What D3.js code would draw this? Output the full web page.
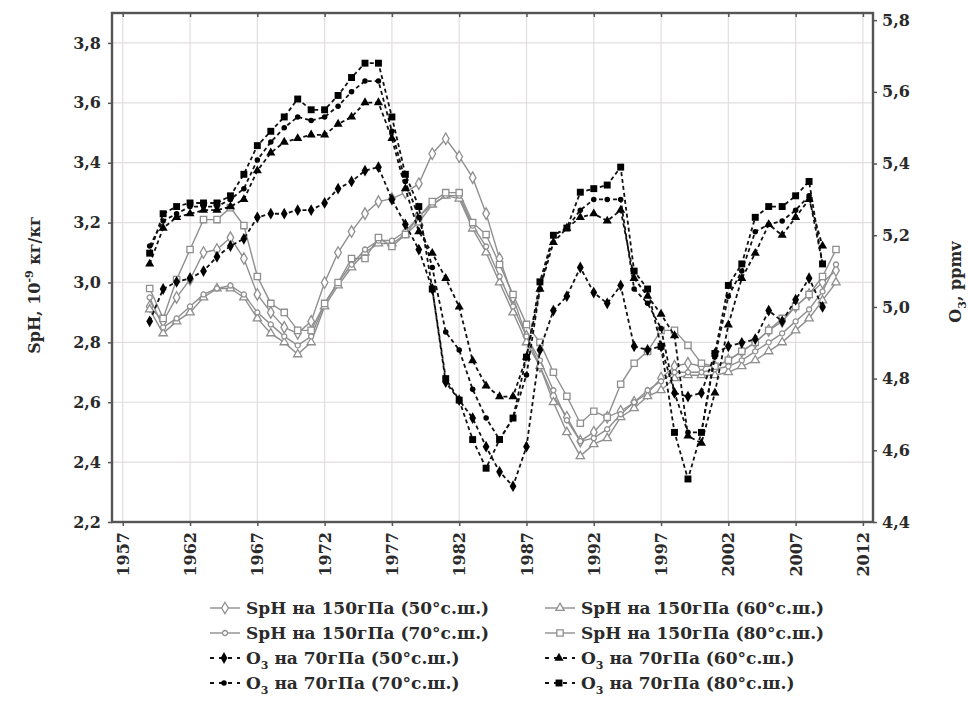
<!DOCTYPE html>
<html>
<head>
<meta charset="utf-8">
<script src="https://cdn.jsdelivr.net/npm/d3@7"></script>
<style>
  html, body { margin: 0; padding: 0; background: #fff; }
  svg { display: block; }
  text { font-family: "DejaVu Serif", "Liberation Serif", serif; font-weight: bold; fill: #2a2a2a; }
</style>
</head>
<body>
<svg id="chart" width="968" height="719"></svg>
<script>
// ---------------- DATA ----------------
const sphYears = [1959,1960,1961,1962,1963,1964,1965,1966,1967,1968,1969,1970,1971,1972,1973,1974,1975,1976,1977,1978,1979,1980,1981,1982,1983,1984,1985,1986,1987,1988,1989,1990,1991,1992,1993,1994,1995,1996,1997,1998,1999,2000,2001,2002,2003,2004,2005,2006,2007,2008,2009,2010];
const o3Years = [1959,1960,1961,1962,1963,1964,1965,1966,1967,1968,1969,1970,1971,1972,1973,1974,1975,1976,1977,1978,1979,1980,1981,1982,1983,1984,1985,1986,1987,1988,1989,1990,1991,1992,1993,1994,1995,1996,1997,1998,1999,2000,2001,2002,2003,2004,2005,2006,2007,2008,2009];

const sph50 = [2.92,2.87,2.95,3.01,3.10,3.11,3.15,3.08,2.96,2.90,2.85,2.83,2.87,3.00,3.10,3.17,3.23,3.27,3.28,3.30,3.33,3.43,3.48,3.42,3.35,3.23,3.08,2.95,2.82,2.72,2.62,2.55,2.47,2.50,2.55,2.57,2.60,2.63,2.68,2.72,2.73,2.72,2.72,2.74,2.77,2.80,2.84,2.87,2.92,2.96,3.00,3.04];
const sph60 = [2.91,2.83,2.87,2.90,2.95,2.98,2.98,2.95,2.88,2.83,2.80,2.76,2.80,2.92,2.99,3.05,3.10,3.13,3.13,3.16,3.20,3.26,3.29,3.28,3.18,3.10,3.00,2.90,2.80,2.72,2.60,2.50,2.42,2.46,2.48,2.55,2.58,2.62,2.64,2.68,2.69,2.69,2.69,2.70,2.72,2.74,2.77,2.80,2.84,2.88,2.94,3.00];
const sph70 = [2.95,2.85,2.88,2.92,2.96,2.98,2.99,2.96,2.90,2.86,2.82,2.79,2.82,2.93,3.00,3.06,3.11,3.14,3.14,3.17,3.22,3.26,3.29,3.29,3.19,3.12,3.02,2.92,2.82,2.74,2.64,2.54,2.47,2.48,2.51,2.56,2.60,2.64,2.67,2.70,2.70,2.70,2.71,2.72,2.74,2.77,2.80,2.83,2.87,2.91,2.97,3.06];
const sph80 = [2.98,2.88,3.01,3.11,3.21,3.21,3.25,3.19,3.02,2.93,2.90,2.84,2.84,2.93,3.00,3.08,3.08,3.15,3.12,3.16,3.22,3.27,3.30,3.30,3.20,3.16,3.06,2.96,2.86,2.80,2.70,2.62,2.53,2.57,2.55,2.66,2.73,2.77,2.84,2.84,2.79,2.73,2.72,2.74,2.77,2.80,2.84,2.88,2.92,2.96,3.02,3.11];

const o3_50 = [4.96,5.05,5.07,5.08,5.10,5.14,5.17,5.19,5.25,5.26,5.26,5.27,5.27,5.29,5.33,5.35,5.38,5.39,5.30,5.23,5.16,5.05,4.79,4.74,4.69,4.61,4.54,4.50,4.61,4.88,4.99,5.03,5.11,5.04,5.01,5.06,4.89,4.88,4.89,4.76,4.75,4.76,4.87,4.89,4.90,4.91,4.99,4.96,5.02,5.08,5.00];
const o3_60 = [5.12,5.22,5.25,5.26,5.27,5.27,5.28,5.30,5.38,5.43,5.46,5.47,5.48,5.48,5.51,5.53,5.57,5.57,5.47,5.33,5.21,5.15,5.08,5.00,4.85,4.78,4.75,4.75,4.86,5.05,5.18,5.22,5.25,5.26,5.24,5.27,5.08,5.03,4.98,4.92,4.64,4.62,4.76,4.95,5.08,5.15,5.23,5.20,5.25,5.30,5.17];
const o3_70 = [5.17,5.24,5.26,5.28,5.28,5.28,5.30,5.33,5.41,5.46,5.50,5.53,5.52,5.53,5.56,5.60,5.63,5.63,5.49,5.35,5.25,5.11,4.93,4.88,4.77,4.69,4.63,4.69,4.81,5.05,5.20,5.22,5.27,5.30,5.30,5.30,5.05,5.01,4.94,4.76,4.65,4.65,4.86,5.03,5.10,5.21,5.23,5.24,5.27,5.31,5.12];
const o3_80 = [5.15,5.26,5.28,5.29,5.29,5.29,5.31,5.37,5.45,5.49,5.53,5.58,5.55,5.55,5.59,5.64,5.68,5.68,5.53,5.37,5.28,5.05,4.80,4.74,4.63,4.55,4.63,4.69,4.86,5.07,5.20,5.22,5.32,5.33,5.34,5.39,5.10,5.05,4.89,4.65,4.52,4.65,4.87,5.06,5.12,5.25,5.28,5.28,5.31,5.35,5.12];

const xTicks = [1957,1962,1967,1972,1977,1982,1987,1992,1997,2002,2007,2012];
const yLeftTicks = [2.2,2.4,2.6,2.8,3.0,3.2,3.4,3.6,3.8];
const yRightTicks = [4.4,4.6,4.8,5.0,5.2,5.4,5.6,5.8];

const seriesLabels = [
  "SpH на 150гПа (50°с.ш.)", "SpH на 150гПа (60°с.ш.)",
  "SpH на 150гПа (70°с.ш.)", "SpH на 150гПа (80°с.ш.)",
  "на 70гПа (50°с.ш.)", "на 70гПа (60°с.ш.)",
  "на 70гПа (70°с.ш.)", "на 70гПа (80°с.ш.)"
];

// ---------------- LAYOUT ----------------
const plot = { left: 112, right: 873, top: 13, bottom: 522 };
const svg = d3.select("#chart");

const x = d3.scaleLinear().domain([1956.2, 2012.75]).range([plot.left, plot.right]);
const yL = d3.scaleLinear().domain([2.2, 3.9]).range([plot.bottom, plot.top]);
const yR = d3.scaleLinear().domain([4.4, 5.82]).range([plot.bottom, plot.top]);

const fmt = d => d.toFixed(1).replace(".", ",");
const FS = "16px";
const LFS = "17px";

// grid
const grid = svg.append("g");
grid.selectAll("line.v").data(xTicks).enter().append("line")
  .attr("x1", d => x(d)).attr("x2", d => x(d))
  .attr("y1", plot.top).attr("y2", plot.bottom)
  .attr("stroke", "#e2dede").attr("stroke-width", 1.2);
grid.selectAll("line.h").data(yLeftTicks).enter().append("line")
  .attr("x1", plot.left).attr("x2", plot.right)
  .attr("y1", d => yL(d)).attr("y2", d => yL(d))
  .attr("stroke", "#e2dede").attr("stroke-width", 1.2);

// axes
const axisStyle = g => {
  g.select(".domain").remove();
  g.selectAll(".tick line").attr("stroke", "#555").attr("stroke-width", 1.5);
  g.selectAll(".tick text").style("font-size", FS).attr("fill", "#2a2a2a");
};
svg.append("g").attr("transform", `translate(${plot.left},0)`)
  .call(d3.axisLeft(yL).tickValues(yLeftTicks).tickFormat(fmt).tickSize(4).tickPadding(7))
  .call(axisStyle);
svg.append("g").attr("transform", `translate(${plot.right},0)`)
  .call(d3.axisRight(yR).tickValues(yRightTicks).tickFormat(fmt).tickSize(4).tickPadding(5))
  .call(axisStyle);
const xa = svg.append("g").attr("transform", `translate(0,${plot.bottom})`)
  .call(d3.axisBottom(x).tickValues(xTicks).tickFormat(d3.format("d")).tickSize(4).tickPadding(6))
  .call(axisStyle);
xa.selectAll(".tick text")
  .attr("transform", "rotate(-90)")
  .attr("text-anchor", "end")
  .attr("dy", "0.35em")
  .attr("x", -10).attr("y", 0);
svg.append("g").attr("transform", `translate(0,${plot.top})`)
  .call(d3.axisBottom(x).tickValues(xTicks).tickFormat("").tickSize(4))
  .call(axisStyle);

// series definitions
const sphColor = "#8f8f8f";
const sphSeries = [
  { vals: sph50, sym: d3.symbolDiamond, size: 38 },
  { vals: sph60, sym: d3.symbolTriangle, size: 30 },
  { vals: sph70, sym: d3.symbolCircle, size: 20 },
  { vals: sph80, sym: d3.symbolSquare, size: 40 }
];
const o3Series = [
  { vals: o3_50, sym: d3.symbolDiamond, size: 40 },
  { vals: o3_60, sym: d3.symbolTriangle, size: 36 },
  { vals: o3_70, sym: d3.symbolCircle, size: 24 },
  { vals: o3_80, sym: d3.symbolSquare, size: 48 }
];

const sphLine = vals => d3.line().x((d, i) => x(sphYears[i])).y(d => yL(d))(vals);
const o3Line = vals => d3.line().x((d, i) => x(o3Years[i])).y(d => yR(d))(vals);

const gS = svg.append("g");
sphSeries.forEach(s => {
  gS.append("path").attr("d", sphLine(s.vals))
    .attr("fill", "none").attr("stroke", sphColor).attr("stroke-width", 1.4);
});
sphSeries.forEach(s => {
  gS.append("g").selectAll("path").data(s.vals).enter().append("path")
    .attr("d", d3.symbol().type(s.sym).size(s.size))
    .attr("transform", (d, i) => `translate(${x(sphYears[i])},${yL(d)})`)
    .attr("fill", "#fff").attr("stroke", sphColor).attr("stroke-width", 1.3);
});

const gO = svg.append("g");
o3Series.forEach(s => {
  gO.append("path").attr("d", o3Line(s.vals))
    .attr("fill", "none").attr("stroke", "#111").attr("stroke-width", 1.8)
    .attr("stroke-dasharray", "4,3");
});
o3Series.forEach(s => {
  gO.append("g").selectAll("path").data(s.vals).enter().append("path")
    .attr("d", d3.symbol().type(s.sym).size(s.size))
    .attr("transform", (d, i) => `translate(${x(o3Years[i])},${yR(d)})`)
    .attr("fill", "#000");
});

// frame
svg.append("rect")
  .attr("x", plot.left).attr("y", plot.top)
  .attr("width", plot.right - plot.left).attr("height", plot.bottom - plot.top)
  .attr("fill", "none").attr("stroke", "#555").attr("stroke-width", 2.4);

// axis titles
const lt = svg.append("text")
  .attr("transform", `translate(40,285) rotate(-90)`)
  .attr("text-anchor", "middle").style("font-size", FS);
lt.append("tspan").text("SpH, 10");
lt.append("tspan").attr("dy", -7).style("font-size", "11px").text("-9");
lt.append("tspan").attr("dy", 7).text(" кг/кг");

const rt = svg.append("text")
  .attr("transform", `translate(961,282) rotate(-90)`)
  .attr("text-anchor", "middle").style("font-size", FS);
rt.append("tspan").text("O");
rt.append("tspan").attr("dy", 5).style("font-size", "11px").text("3");
rt.append("tspan").attr("dy", -5).text(", ppmv");

// legend
const legendItems = [
  { col: 0, row: 0, type: "sph", s: sphSeries[0], label: seriesLabels[0] },
  { col: 1, row: 0, type: "sph", s: sphSeries[1], label: seriesLabels[1] },
  { col: 0, row: 1, type: "sph", s: sphSeries[2], label: seriesLabels[2] },
  { col: 1, row: 1, type: "sph", s: sphSeries[3], label: seriesLabels[3] },
  { col: 0, row: 2, type: "o3", s: o3Series[0], label: seriesLabels[4] },
  { col: 1, row: 2, type: "o3", s: o3Series[1], label: seriesLabels[5] },
  { col: 0, row: 3, type: "o3", s: o3Series[2], label: seriesLabels[6] },
  { col: 1, row: 3, type: "o3", s: o3Series[3], label: seriesLabels[7] }
];
const colX = [210, 545], rowY = [608, 633, 658, 683];
const lg = svg.append("g");
legendItems.forEach(it => {
  const lx = colX[it.col], ly = rowY[it.row];
  const g = lg.append("g").attr("transform", `translate(${lx},${ly})`);
  if (it.type === "sph") {
    g.append("line").attr("x1", 0).attr("x2", 30).attr("y1", 0).attr("y2", 0)
      .attr("stroke", sphColor).attr("stroke-width", 1.4);
    g.append("path").attr("d", d3.symbol().type(it.s.sym).size(it.s.size))
      .attr("transform", "translate(15,0)").attr("fill", "#fff").attr("stroke", sphColor).attr("stroke-width", 1.3);
    g.append("text").attr("x", 36).attr("y", 6).style("font-size", LFS).text(it.label);
  } else {
    g.append("line").attr("x1", 0).attr("x2", 30).attr("y1", 0).attr("y2", 0)
      .attr("stroke", "#111").attr("stroke-width", 1.8).attr("stroke-dasharray", "4,5");
    g.append("path").attr("d", d3.symbol().type(it.s.sym).size(it.s.size))
      .attr("transform", "translate(14,0)").attr("fill", "#000");
    const t = g.append("text").attr("x", 36).attr("y", 6).style("font-size", LFS);
    t.append("tspan").text("O");
    t.append("tspan").attr("dy", 5).style("font-size", "11px").text("3");
    t.append("tspan").attr("dy", -5).text(" " + it.label);
  }
});
</script>
</body>
</html>
